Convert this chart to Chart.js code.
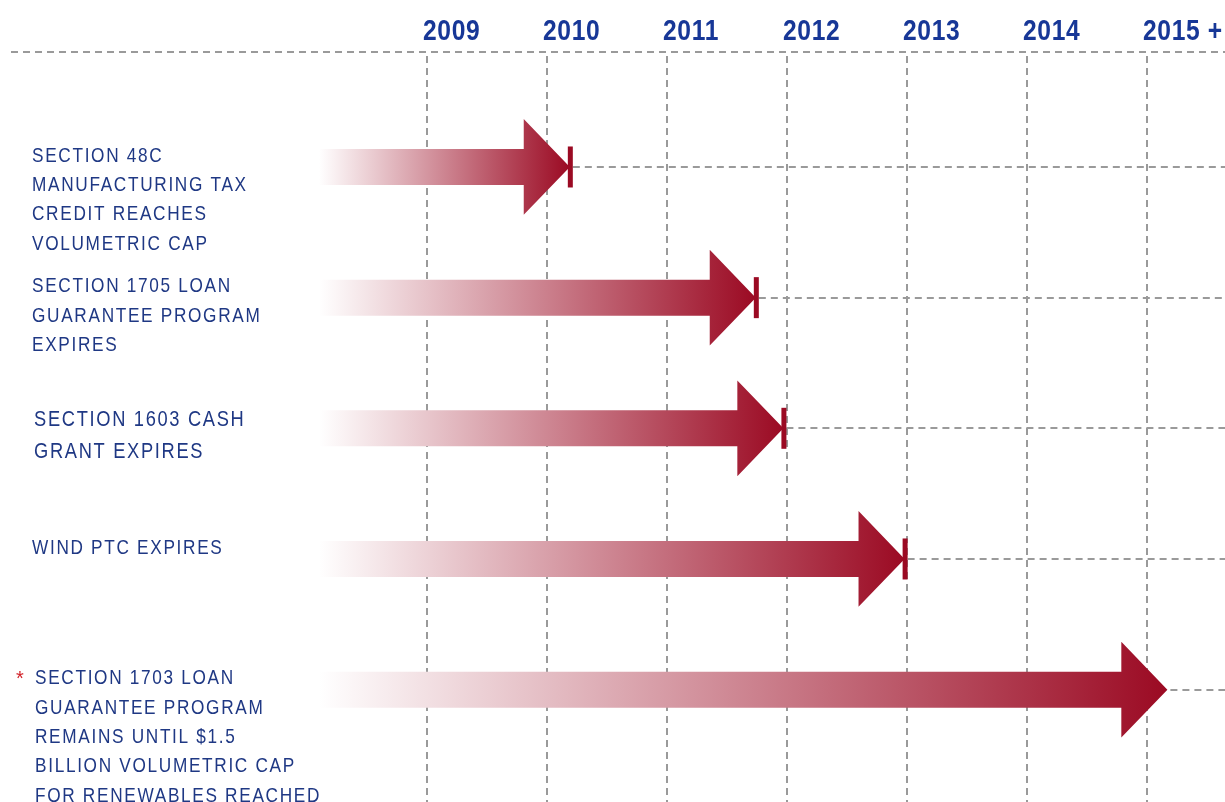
<!DOCTYPE html>
<html>
<head>
<meta charset="utf-8">
<script src="https://cdn.jsdelivr.net/npm/chart.js@4.4.1/dist/chart.umd.min.js"></script>
<style>
  body { margin: 0; background: #ffffff; }
  #caixaGrafico { width: 1225px; height: 802px; }
</style>
</head>
<body>
<div id="caixaGrafico"><canvas id="graficoPrazos"></canvas></div>
<script>
// dados
var rotulos = [
    ['SECTION 48C', 'MANUFACTURING TAX', 'CREDIT REACHES', 'VOLUMETRIC CAP'],
    ['SECTION 1705 LOAN', 'GUARANTEE PROGRAM', 'EXPIRES'],
    ['SECTION 1603 CASH', 'GRANT EXPIRES'],
    ['WIND PTC EXPIRES'],
    ['SECTION 1703 LOAN', 'GUARANTEE PROGRAM', 'REMAINS UNTIL $1.5', 'BILLION VOLUMETRIC CAP', 'FOR RENEWABLES REACHED']
]
var inicio = [2008.1, 2008.1, 2008.1, 2008.1, 2008.1]
var fim = [2010.19, 2011.74, 2011.97, 2012.98, 2015.17]
var temMarca = [true, true, true, true, false]
var temAsterisco = [false, false, false, false, true]
var anos = [2009, 2010, 2011, 2012, 2013, 2014, 2015]
var rotulosAnos = ['2009', '2010', '2011', '2012', '2013', '2014', '2015 +']

// estilo dos textos da esquerda (o terceiro é um pouco maior no original)
var tamanhoRotulo = [21, 21, 22.3, 21, 21]
var entrelinha = [29.3, 29.3, 32, 29.3, 29.3]

var corSeta = '#9b0a23'
var corTraco = '#9a9a9a'
var corTexto = '#1f3884'
var corAno = '#173797'
// Liberation Sans comprimida horizontalmente ~ fonte "narrow"
var fonte = '"Liberation Sans", Arial, sans-serif'
var aperto = 0.82

function textoEstreito(ctx, texto, x, y) {
    ctx.save()
    ctx.translate(x, y)
    ctx.scale(aperto, 1)
    ctx.fillText(texto, 0, 0)
    ctx.restore()
}

var pluginSetas = {
    id: 'setas',
    beforeDatasetsDraw: function (chart) {
        var ctx = chart.ctx
        var area = chart.chartArea
        ctx.save()
        ctx.strokeStyle = corTraco
        ctx.lineWidth = 2
        ctx.setLineDash([7, 5])
        // linha tracejada do topo
        ctx.beginPath()
        ctx.moveTo(area.left, area.top)
        ctx.lineTo(area.right, area.top)
        ctx.stroke()
        // linhas saindo da ponta de cada seta
        chart.getDatasetMeta(0).data.forEach(function (barra) {
            var p = barra.getProps(['x', 'y'], true)
            ctx.beginPath()
            ctx.moveTo(p.x + 3, Math.round(p.y))
            ctx.lineTo(area.right, Math.round(p.y))
            ctx.stroke()
        })
        ctx.restore()
    },
    afterDatasetsDraw: function (chart) {
        var ctx = chart.ctx
        var area = chart.chartArea
        var escalaX = chart.scales.x
        ctx.save()

        // anos no topo
        ctx.fillStyle = corAno
        ctx.font = 'bold 30px ' + fonte
        ctx.letterSpacing = '0.8px'
        ctx.textAlign = 'left'
        ctx.textBaseline = 'alphabetic'
        anos.forEach(function (ano, i) {
            textoEstreito(ctx, rotulosAnos[i], escalaX.getPixelForValue(ano) - 4, area.top - 12)
        })

        chart.getDatasetMeta(0).data.forEach(function (barra, i) {
            var p = barra.getProps(['x', 'y', 'base', 'height'], true)
            var meia = p.height / 2
            var cabeca = p.height * 1.28
            var aba = p.height * 1.33

            var grad = ctx.createLinearGradient(p.base, 0, p.x, 0)
            grad.addColorStop(0, '#ffffff')
            grad.addColorStop(1, corSeta)
            ctx.beginPath()
            ctx.moveTo(p.base, p.y - meia)
            ctx.lineTo(p.x - cabeca, p.y - meia)
            ctx.lineTo(p.x - cabeca, p.y - aba)
            ctx.lineTo(p.x, p.y)
            ctx.lineTo(p.x - cabeca, p.y + aba)
            ctx.lineTo(p.x - cabeca, p.y + meia)
            ctx.lineTo(p.base, p.y + meia)
            ctx.closePath()
            ctx.fillStyle = grad
            ctx.fill()

            if (temMarca[i]) {
                ctx.fillStyle = corSeta
                ctx.fillRect(p.x - 2, p.y - 20.5, 5, 41)
            }

            // texto da esquerda
            var maior = tamanhoRotulo[i] > 21
            ctx.fillStyle = corTexto
            ctx.font = tamanhoRotulo[i] + 'px ' + fonte
            ctx.letterSpacing = '2.05px'
            ctx.textBaseline = 'middle'
            var y0 = maior ? p.y - 8.5 : p.y - 11
            var x0 = area.left + 21
            if (maior) x0 = area.left + 23
            if (temAsterisco[i]) x0 = area.left + 24
            rotulos[i].forEach(function (linha, k) {
                textoEstreito(ctx, linha, x0, y0 + k * entrelinha[i])
            })
            if (temAsterisco[i]) {
                ctx.letterSpacing = '0px'
                ctx.fillStyle = '#d2232a'
                ctx.font = '20px ' + fonte
                ctx.textBaseline = 'alphabetic'
                ctx.fillText('*', area.left + 5, y0 + 6)
            }
        })
        ctx.restore()
    }
}

var dadosSetas = {
    datasets: [{
        label: 'Prazos',
        data: fim.map(function (f, i) {
            return { x: [inicio[i], f], y: i }
        }),
        backgroundColor: 'rgba(0,0,0,0)',
        borderWidth: 0,
        barThickness: 36
    }]
}

const config = {
    type: 'bar',
    data: dadosSetas,
    plugins: [pluginSetas],
    options: {
        indexAxis: 'y',
        responsive: true,
        maintainAspectRatio: false,
        animation: false,
        layout: {
            padding: { left: 11, right: 0, top: 52, bottom: 0 }
        },
        plugins: {
            legend: { display: false },
            tooltip: { enabled: false }
        },
        scales: {
            x: {
                type: 'linear',
                position: 'top',
                min: 2005.533,
                max: 2015.65,
                afterBuildTicks: function (escala) {
                    escala.ticks = anos.map(function (a) { return { value: a } })
                },
                afterFit: function (escala) {
                    escala.paddingLeft = 0
                    escala.paddingRight = 0
                    escala.height = 0
                },
                grid: {
                    color: corTraco,
                    lineWidth: 2,
                    drawTicks: false
                },
                border: {
                    display: false,
                    dash: [7, 5],
                    dashOffset: -4
                },
                ticks: {
                    display: false
                }
            },
            y: {
                type: 'linear',
                display: false,
                offset: false,
                grid: { offset: false },
                reverse: true,
                min: -0.88,
                max: 4.86
            }
        }
    }
}

var myChart = new Chart(document.getElementById('graficoPrazos'), config)
</script>
</body>
</html>
